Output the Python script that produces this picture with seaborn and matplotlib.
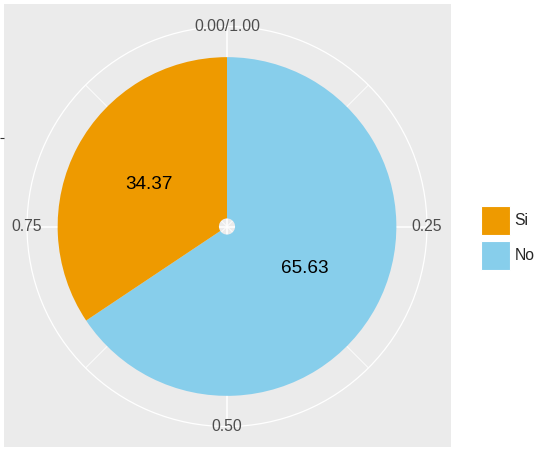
import numpy as np
import matplotlib
matplotlib.use('Agg')
import matplotlib.pyplot as plt
import seaborn as sns
from matplotlib.patches import Patch

# data
categories = ['Si', 'No']
percent = [34.37, 65.63]
colors = {'Si': '#EE9A00', 'No': '#87CEEB'}
theta_breaks = [0.0, 0.25, 0.5, 0.75]
theta_labels = ['0.00/1.00', '0.25', '0.50', '0.75']

sns.set_style('white')
plt.rcParams['font.family'] = ['Liberation Sans', 'DejaVu Sans']

W, H = 537, 449
fig = plt.figure(figsize=(W / 100, H / 100), dpi=100)

# grey ggplot-like panel
bg = fig.add_axes([4 / W, 2 / H, 447 / W, 443 / H])
bg.set_facecolor('#EBEBEB')
bg.set_xlim(0, 1)
bg.set_ylim(0, 1)
bg.set_xticks([])
for sp in bg.spines.values():
    sp.set_visible(False)

# polar axes: theta = cumulative share, r = the single x position
pol = fig.add_axes([27 / W, 22.5 / H, 400 / W, 400 / H], projection='polar')
pol.set_facecolor('none')
pol.set_theta_zero_location('N')
pol.set_theta_direction(-1)
r_min, r_max = 0.45, 1.69
pol.set_ylim(r_min, r_max)
pol.set_yticks([])
pol.set_xticks(np.array(theta_breaks) * 2 * np.pi)
pol.set_xticks((np.array(theta_breaks) + 0.125) * 2 * np.pi, minor=True)
pol.set_xticklabels([])
pol.tick_params(axis='x', which='both', length=0)
pol.xaxis.grid(True, which='major', color='white', linewidth=1.1)
pol.xaxis.grid(True, which='minor', color='white', linewidth=0.6)
pol.spines['polar'].set_color('white')
pol.spines['polar'].set_linewidth(0.9)
pol.set_axisbelow(True)

# stack: "No" starts at 0 and runs clockwise, "Si" fills the rest
stack_order = categories[::-1]
vals = np.array([percent[categories.index(c)] for c in stack_order]) / 100
starts = np.concatenate([[0], np.cumsum(vals)[:-1]])
for cat, v, s in zip(stack_order, vals, starts):
    pol.bar(s * 2 * np.pi, 1.0, width=v * 2 * np.pi, bottom=0.5, align='edge',
            color=colors[cat], linewidth=0)
    pol.text((s + v / 2) * 2 * np.pi, 1.0, f'{v * 100:.2f}', ha='center', va='center',
             fontsize=13.6, color='black')

for b, lab in zip(theta_breaks, theta_labels):
    pol.text(b * 2 * np.pi, r_max, lab, ha='center', va='center', fontsize=11.3,
             color='#4D4D4D', clip_on=False)

# r-axis tick at the left edge of the panel (x = 1)
disp = pol.transData.transform((0, 1.0))
ty = bg.transAxes.inverted().transform(disp)[1]
bg.set_yticks([ty])
bg.set_yticklabels([''])
bg.tick_params(axis='y', left=True, length=3, width=0.8, color='#333333', direction='out')

handles = [Patch(facecolor=colors[c], edgecolor='white', linewidth=0.8) for c in categories]
fig.legend(handles, categories, loc='upper left', bbox_to_anchor=(481 / W, 1 - 206 / H),
           frameon=False, fontsize=11.3, handlelength=1.85, handleheight=2.465,
           handletextpad=0.3, labelspacing=0.38, borderpad=0, borderaxespad=0)

fig.savefig('out.png', dpi=100)
